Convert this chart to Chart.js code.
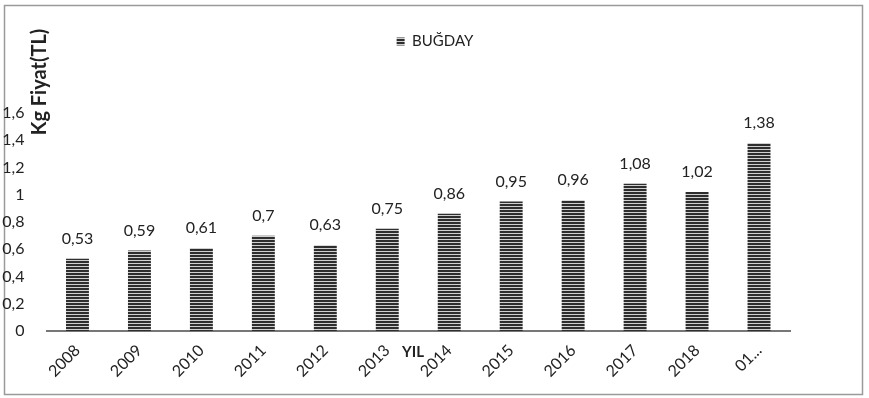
<!DOCTYPE html>
<html>
<head>
<meta charset="utf-8">
<script src="https://cdn.jsdelivr.net/npm/chart.js@4.4.1/dist/chart.umd.min.js"></script>
<style>
  html, body { margin: 0; padding: 0; background: #fff; }
  #wrap { width: 869px; height: 398px; }
</style>
</head>
<body>
<div id="wrap"><canvas id="myChart" width="869" height="398"></canvas></div>
<script>
// chart data
const years = ['2008', '2009', '2010', '2011', '2012', '2013', '2014', '2015', '2016', '2017', '2018', '01...'];
const prices = [0.53, 0.59, 0.61, 0.7, 0.63, 0.75, 0.86, 0.95, 0.96, 1.08, 1.02, 1.38];
const seriesName = 'BUĞDAY';
const yTitle = 'Kg Fiyat(TL)';
const xTitle = 'YIL';

const FONT = 'Lato, "Liberation Sans", sans-serif';

function comma(v) {
    return String(v).replace('.', ',');
}

// striped fill like the scanned bars
function makeStripes() {
    const c = document.createElement('canvas');
    c.width = 4;
    c.height = 3;
    const g = c.getContext('2d');
    g.fillStyle = '#2e2e2e';
    g.fillRect(0, 0, 4, 3);
    g.fillStyle = '#d0d0d0';
    g.fillRect(0, 2, 4, 1);
    return g.createPattern(c, 'repeat');
}

// frame, axis titles and value labels
const extras = {
    id: 'extras',
    beforeInit(chart) {
        const fit = chart.legend.fit;
        chart.legend.fit = function () {
            fit.bind(chart.legend)();
            this.height += 54;
        };
    },
    afterLayout(chart) {
        // legend sits centred on the whole frame, not the plot
        chart.legend.left += 40;
        chart.legend.right += 40;
    },
    beforeDraw(chart) {
        const c = chart.ctx;
        c.save();
        c.fillStyle = '#fff';
        c.fillRect(0, 0, chart.width, chart.height);
        c.strokeStyle = '#9a9a9a';
        c.lineWidth = 1.5;
        c.strokeRect(4.5, 5.5, 858, 389);
        c.restore();
    },
    afterDraw(chart) {
        const c = chart.ctx;
        const meta = chart.getDatasetMeta(0);
        c.save();
        c.fillStyle = '#222';
        c.font = '16px ' + FONT;
        c.textAlign = 'center';
        c.textBaseline = 'bottom';
        meta.data.forEach((bar, i) => {
            c.fillText(comma(prices[i]), bar.x, bar.y - 12);
        });

        c.font = 'bold 20px ' + FONT;
        c.textBaseline = 'middle';
        c.translate(40, 82);
        c.rotate(-Math.PI / 2);
        c.fillText(yTitle, 0, 0);
        c.restore();

        c.save();
        c.fillStyle = '#222';
        c.font = 'bold 15px ' + FONT;
        c.textAlign = 'center';
        c.textBaseline = 'middle';
        c.fillText(xTitle, 413, 352);
        c.restore();
    }
};

function initChart() {
    const ctx = document.getElementById('myChart');
    new Chart(ctx, {
        type: 'bar',
        data: {
            labels: years,
            datasets: [{
                label: seriesName,
                data: prices,
                backgroundColor: makeStripes(),
                borderWidth: 0,
                barPercentage: 0.37,
                categoryPercentage: 1
            }]
        },
        options: {
            responsive: false,
            animation: false,
            layout: { padding: { left: 0, right: 79, top: 30, bottom: 0 } },
            scales: {
                y: {
                    min: 0,
                    max: 1.6,
                    ticks: {
                        stepSize: 0.2,
                        padding: 14,
                        color: '#222',
                        font: { size: 16, family: FONT },
                        callback: v => comma(Math.round(v * 10) / 10)
                    },
                    grid: { display: false },
                    border: { display: false },
                    afterFit(scale) { scale.width = 46.5; }
                },
                x: {
                    ticks: {
                        minRotation: 45,
                        maxRotation: 45,
                        padding: 2,
                        color: '#222',
                        font: { size: 16, family: FONT }
                    },
                    grid: { display: false },
                    border: { display: true, color: '#777', width: 2 },
                    afterFit(scale) { scale.height = 67; }
                }
            },
            plugins: {
                legend: {
                    display: true,
                    position: 'top',
                    labels: {
                        boxWidth: 8,
                        boxHeight: 8,
                        padding: 4,
                        color: '#222',
                        font: { size: 15, family: FONT }
                    }
                },
                tooltip: { enabled: false }
            }
        },
        plugins: [extras]
    });
}

document.addEventListener('DOMContentLoaded', initChart);
</script>
</body>
</html>
